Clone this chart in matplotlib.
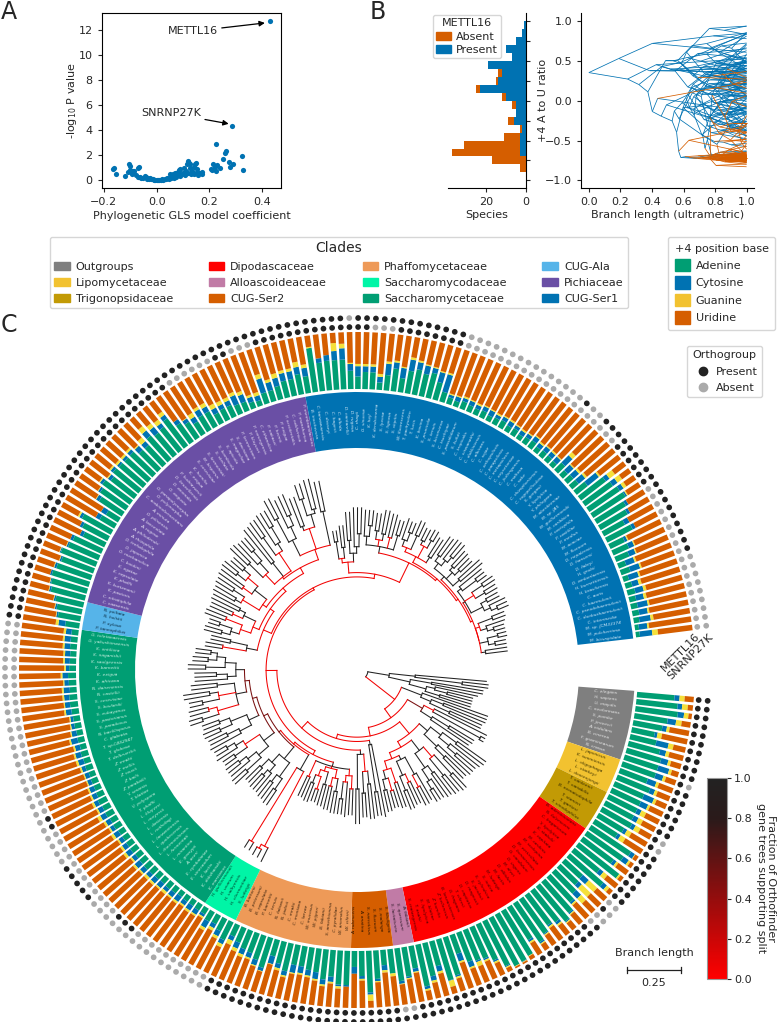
import re

import numpy as np
import matplotlib
matplotlib.use('Agg')
import matplotlib.pyplot as plt
from matplotlib.collections import LineCollection
from matplotlib.colors import LinearSegmentedColormap
from matplotlib.cm import ScalarMappable
from matplotlib.lines import Line2D
from matplotlib.patches import Patch

# ---------------------------------------------------------------- panel A data
gls_coef = [-0.166, -0.160, -0.153, -0.120, -0.105, -0.100, -0.102, -0.108, -0.095, -0.092, -0.088, -0.085,
            -0.080, -0.072, -0.068, -0.070, -0.062, -0.058, -0.050, -0.045, -0.040, -0.038, -0.032, -0.030,
            -0.025, -0.020, -0.015, -0.010, -0.005, 0.0, 0.005, 0.01, 0.015, 0.02, 0.025, 0.03, 0.035, 0.04,
            0.045, 0.05, 0.052, 0.055, 0.06, 0.062, 0.065, 0.07, 0.072, 0.075, 0.08, 0.082, 0.085, 0.088,
            0.09, 0.095, 0.10, 0.105, 0.108, 0.112, 0.115, 0.118, 0.12, 0.122, 0.125, 0.128, 0.13, 0.135,
            0.14, 0.142, 0.145, 0.148, 0.15, 0.152, 0.155, 0.16, 0.165, 0.17, 0.172, 0.206, 0.21, 0.215,
            0.22, 0.223, 0.224, 0.228, 0.24, 0.25, 0.26, 0.264, 0.275, 0.277, 0.29, 0.287, 0.325, 0.328, 0.43]
gls_logp = [0.93, 0.97, 0.53, 0.32, 1.28, 0.82, 1.15, 0.70, 0.60, 0.50, 0.78, 0.72,
            0.40, 0.25, 1.06, 0.98, 0.30, 0.22, 0.18, 0.38, 0.30, 0.12, 0.22, 0.10,
            0.16, 0.08, 0.12, 0.05, 0.03, 0.02, 0.04, 0.02, 0.06, 0.08, 0.05, 0.10, 0.08, 0.18,
            0.12, 0.30, 0.48, 0.22, 0.35, 0.52, 0.15, 0.62, 0.42, 0.28, 0.70, 0.55, 0.82, 0.90,
            0.36, 0.48, 0.62, 0.98, 0.42, 0.75, 1.28, 1.55, 0.60, 1.42, 0.95, 1.30, 0.50, 0.75,
            1.05, 0.48, 1.30, 0.62, 1.42, 0.90, 0.42, 0.55, 0.60, 0.48, 0.65, 0.93, 0.85, 1.33,
            1.05, 0.75, 2.88, 1.2, 0.95, 1.73, 2.2, 2.35, 1.47, 1.07, 1.33, 4.37, 1.97, 0.8, 12.72]

# ---------------------------------------------------------------- panel B data
hist_edges = np.arange(-0.9, 1.01, 0.1)
hist_present = [0, 0, 3, 3, 3, 2, 6, 5, 5, 10, 23, 14, 12, 19, 7, 10, 5, 2, 1]
hist_absent = [3, 17, 34, 28, 8, 1, 3, 0, 2, 2, 2, 1, 2, 0, 0, 0, 0, 0, 0]

# ---------------------------------------------------------------- clades, clockwise from the gap
clade_names = ['Outgroups', 'Lipomycetaceae', 'Trigonopsidaceae', 'Dipodascaceae', 'Alloascoideaceae', 'CUG-Ser2',
               'Phaffomycetaceae', 'Saccharomycodaceae', 'Saccharomycetaceae', 'CUG-Ala', 'Pichiaceae', 'CUG-Ser1']
clade_colors = ['#7F7F7F', '#F2C230', '#C29A05', '#FF0000', '#C17BA6', '#D55E00',
                '#EE9A58', '#00F5A6', '#009E73', '#56B4E9', '#6A4FA5', '#0072B2']
label_colors = ['#E8E8E8', '#3A3000', '#2E2500', '#4A0000', '#2C1A28', '#2E1400',
                '#3D2510', '#00402C', '#C8F0E0', '#0A2A40', '#E6E0F4', '#CFE6F6']

outgroups = ['C. elegans', 'H. sapiens', 'U. maydis', 'C. neoformans', 'S. pombe', 'P. jirovecii', 'A. nidulans',
             'B. cinerea', 'F. graminearum', 'N. crassa']
lipomycetaceae = ['L. japonicus', 'K. suomiensis', 'L. oligophaga', 'L. starkeyi', 'L. doorenjongii']
trigonopsidaceae = ['T. vanleenii', 'T. variabilis', 'B. nematodophila', 'T. stanieri', 'T. gartieri',
                    'T. vinodophilus']
dipodascaceae = ['B. adeninivorans', 'N. fulvescens', 'C. fragariorum', 'Y. lipolytica', 'K. stabulii', 'K. capitata',
                 'M. cardinis', 'M. scolopina', 'M. verticillata', 'D. bonaerensis', 'G. candidum', 'D. ingens',
                 'M. alvei', 'D. albidus', 'M. lactis', 'M. ludwigii', 'S. indica', 'S. cylindrica', 'S. jacobsii',
                 'D. magnusii', 'D. capitatus', 'T. ciferrii', 'G. fragrans', 'B. lanzarotensis', 'Z. hellenicus',
                 'Z. humilis', 'M. blattae', 'S. lipolytica', 'T. asahii', 'S. crataegensis']
alloascoideaceae = ['A. fabianii', 'S. quercuum', 'S. lactativora']
cug_ser2 = ['S. fibuligera', 'S. malanga', 'S. fluxuum', 'S. narcoticus', 'A. anatina', 'A. rubescens']
phaffomycetaceae = ['W. ciferrii', 'W. anomalus', 'C. pyralidae', 'S. amethionina', 'B. fabianii', 'W. pijperi',
                    'W. mucosus', 'C. larvae', 'C. montana', 'C. mrakii', 'N. jadinii', 'N. fabianii', 'C. tenuis',
                    'P. barnettii', 'B. capsulata', 'B. petersonii', 'B. bartonii']
saccharomycodaceae = ['S. ludwigii', 'H. clermontiae', 'H. valbyensis', 'H. uvarum', 'H. guilliermondii']
saccharomycetaceae = ['K. marxianus', 'K. dobzhanskii', 'K. lactis', 'E. sinecaudum', 'E. cymbalariae', 'A. aceri',
                      'E. gossypii', 'L. mirantina', 'L. fermentati', 'L. thermotolerans', 'L. quebecensis',
                      'L. lanzarotensis', 'L. nothofagi', 'L. dasiensis', 'L. meyersii', 'L. kluyveri', 'T. phaffii',
                      'V. polyspora', 'T. blattae', 'Y. smarsis', 'Z. parabailii', 'Z. bailii', 'Z. rouxii',
                      'Z. mellis', 'Z. mrakii', 'T. delbrueckii', 'T. globosa', 'T. sp.CBS2947', 'C. glabrata',
                      'N. bacillisporus', 'S. paradoxus', 'S. pastorianus', 'S. eubayanus', 'S. boulardii',
                      'S. cerevisiae', 'N. castellii', 'N. dairenensis', 'K. africana', 'K. exigua', 'K. barnettii',
                      'K. saulgeensis', 'K. naganishii', 'K. ontiliora', 'G. yakushimaensis', 'G. toletanaensis']
cug_ala = ['P. tannophilus', 'P. xylosa', 'N. holstii', 'N. peltata']
pichiaceae = ['C. vaasensis', 'C. nitratiphila', 'K. pastoris', 'K. kurtzmanii', 'K. phaffii', 'K. capsulata',
              'K. ogatae', 'C. boidinii', 'O. methanolica', 'O. japonica', 'O. trehalophila', 'A. rhizophila',
              'A. philodendri', 'A. rugosa', 'A. lanceolata', 'O. pilisensis', 'A. minuta', 'C. arabinofermentans',
              'O. polymorpha', 'O. parapolymorpha', 'O. angusta', 'D. anomala', 'D. bruxellensis', 'P. kudriavzevii',
              'K. exigua', 'K. humilis', 'S. cerevisiae', 'M. bisporus', 'S. fermentati', 'S. stellata',
              'S. bombicola', 'S. apicola', 'S. magnoliae', 'S. davisiana', 'P. fermentans', 'P. kluyveri',
              'P. norvegensis', 'C. ethanolica', 'P. nakasei', 'P. heimii', 'P. exigua', 'P. occidentalis',
              'C. californica', 'P. manshurica', 'P. membranifaciens']
cug_ser1 = ['B. inositovora', 'C. tanzawaensis', 'C. dosseyi', 'C. hagerii', 'C. albida', 'D. cantarellii',
            'D. rugosa', 'C. rhagii', 'G. sinuosa', 'K. hejl', 'K. dendronema', 'S. lyxosa', 'S. lignosa',
            'S. stipitis', 'W. fluorescens', 'T. pachysolen', 'T. lucis', 'K. bovina', 'S. prunicola',
            'S. tenuis', 'S. biconvexa', 'C. tsuchiyae', 'S. passalidarum', 'S. kufuti', 'C. tropicalis',
            'C. viswanathii', 'C. dubliniensis', 'C. albicans', 'C. sojae', 'C. orthopsilosis', 'C. parapsilosis',
            'C. metapsilosis', 'C. oxycetoniae', 'C. jiufengensis', 'C. maltosa', 'C. sake', 'C. rhizophoriensis',
            'C. rugopelliculosa', 'S. gorgasii', 'Y. lipolytica', 'Y. philogaea', 'M. aberdeeniae', 'M. sp. JA5',
            'M. guilliermondii', 'M. caribbica', 'P. cactophila', 'P. castillae', 'P. medius', 'M. acaciae',
            'M. fluxuum', 'D. nepalensis', 'D. hansenii', 'D. fabryi', 'H. grubii', 'D. amberlaensis',
            'H. burnettiensis', 'H. brasiliensis', 'C. auris', 'C. haemulonii', 'C. pseudohaemulonii',
            'C. duobushaemulonii', 'C. intermedia', 'M. sp. JCM33374', 'M. pulcherrima', 'M. bicuspidata']
clade_species = [outgroups, lipomycetaceae, trigonopsidaceae, dipodascaceae, alloascoideaceae, cug_ser2,
                 phaffomycetaceae, saccharomycodaceae, saccharomycetaceae, cug_ala, pichiaceae, cug_ser1]

# +4 position base composition in percent, same clockwise species order (uridine is the rest)
adenine = [66, 73, 75, 59, 52, 41, 47, 57, 63, 62,
           62, 52, 62, 56, 56,
           56, 56, 60, 52, 47, 84,
           78, 67, 90, 58, 78, 42, 44, 52, 60, 72, 80, 70, 66, 74, 82, 68, 92, 95, 96, 88, 70, 60, 58, 55, 35, 70,
           75, 45, 60, 75,
           40, 52, 58,
           43, 27, 50, 73, 44, 28,
           60, 60, 47, 53, 42, 40, 36, 36, 50, 40, 30, 55, 45, 37, 35, 28, 22,
           35, 24, 17, 19, 12,
           12, 11, 11, 10, 12, 13, 12, 13, 14, 15, 14, 13, 14, 13, 12, 12, 14, 13, 15, 14, 16, 13, 12, 12, 11, 13,
           12, 13, 11, 12, 11, 12, 12, 13, 14, 14, 12, 13, 14, 12, 11, 11, 12, 12, 12,
           25, 40, 45, 50,
           62, 65, 68, 64, 60, 66, 58, 55, 42, 50, 58, 30, 25, 48, 55, 60, 52, 58, 56,
           55, 55, 46, 45, 55, 50, 52, 60, 40, 33, 25, 30, 30, 20, 22, 22, 18, 17, 12, 10, 20, 20, 24, 30, 30, 36,
           30, 78, 50, 52, 52, 52, 32, 22, 30, 30, 13, 27, 40, 25, 40, 45, 40, 45, 32, 18,
           12, 10, 14, 12, 11, 13, 10, 12, 14, 11, 13, 9, 12, 14, 10, 12,
           11, 10, 18, 12, 14, 15, 25, 55, 60, 65, 68, 60, 55, 42, 50, 28, 30, 25, 14, 17, 10, 12, 14, 12, 12, 12,
           10, 7, 7]
cytosine = [9, 8, 11, 15, 8, 5, 22, 11, 13, 20,
            14, 16, 9, 19, 14,
            8, 9, 7, 6, 6, 8,
            11, 6, 0, 8, 8, 14, 8, 12, 4, 3, 2, 5, 3, 2, 3, 4, 0, 1, 0, 2, 3, 3, 3, 10, 14, 3, 1, 10, 8, 5,
            6, 3, 5,
            0, 9, 4, 4, 5, 12,
            3, 3, 9, 9, 12, 10, 12, 14, 8, 8, 14, 6, 10, 9, 10, 11, 8,
            8, 10, 8, 13, 5,
            9, 10, 8, 11, 9, 7, 10, 10, 8, 9, 11, 8, 10, 9, 8, 10, 7, 9, 10, 9, 8, 9, 9, 7, 8, 7, 10, 10, 9, 12,
            9, 6, 5, 10, 9, 9, 11, 8, 10, 6, 9, 9, 10, 11, 10,
            12, 3, 3, 3,
            3, 2, 3, 4, 3, 2, 3, 5, 6, 5, 5, 8, 10, 6, 4, 5, 6, 5, 4,
            5, 6, 10, 9, 12, 13, 8, 8, 8, 7, 10, 12, 10, 10, 8, 9, 17, 14, 9, 9, 26, 15, 15, 14, 14, 13,
            15, 0, 8, 10, 16, 20, 12, 18, 10, 10, 10, 20, 11, 18, 20, 13, 15, 9, 18, 32,
            5, 8, 6, 8, 7, 8, 10, 6, 7, 9, 6, 8, 7, 9, 8, 9,
            9, 10, 18, 14, 13, 15, 25, 8, 10, 8, 3, 5, 5, 9, 6, 5, 10, 12, 16, 18, 18, 12, 15, 14, 18, 15, 20, 15, 22]
guanine = [9, 10, 8, 10, 5, 8, 9, 6, 5, 5,
           5, 5, 5, 5, 4,
           9, 9, 10, 9, 10, 1,
           4, 4, 3, 9, 6, 20, 22, 12, 3, 2, 2, 3, 3, 2, 2, 3, 1, 1, 1, 2, 3, 3, 8, 3, 3, 3, 11, 4, 4, 3,
           2, 2, 1,
           5, 4, 2, 11, 3, 0,
           0, 4, 3, 3, 3, 3, 3, 2, 3, 4, 1, 1, 2, 3, 5, 6, 8,
           6, 5, 5, 5, 3,
           3, 4, 3, 4, 3, 5, 3, 4, 5, 3, 4, 3, 5, 4, 3, 5, 3, 4, 6, 3, 4, 3, 3, 2, 2, 3, 4, 3, 3, 3,
           2, 2, 2, 3, 2, 3, 3, 2, 3, 3, 3, 3, 3, 3, 4,
           5, 1, 1, 1,
           1, 1, 0, 1, 1, 1, 1, 0, 0, 0, 3, 0, 0, 1, 1, 2, 2, 3, 4,
           4, 4, 2, 9, 10, 8, 8, 7, 0, 1, 8, 5, 7, 8, 7, 6, 6, 6, 4, 6, 8, 5, 8, 5, 5, 9,
           6, 2, 0, 0, 14, 8, 2, 4, 4, 4, 5, 4, 3, 2, 4, 3, 2, 2, 2, 3,
           2, 2, 3, 2, 3, 2, 2, 3, 2, 3, 2, 3, 2, 2, 3, 2,
           3, 2, 8, 2, 4, 4, 3, 12, 10, 6, 2, 0, 0, 0, 0, 2, 2, 2, 3, 3, 3, 5, 5, 5, 3, 3, 5, 3, 10]

# species index runs (first, last) where the orthogroup is absent
mettl16_absent = [(26, 26), (28, 29), (52, 53), (77, 86), (90, 101), (104, 126), (160, 165), (168, 170),
                  (185, 187), (196, 216), (223, 240)]
snrnp27k_absent = [(10, 10), (17, 18), (26, 28), (77, 92), (98, 126), (182, 182), (196, 210), (212, 213),
                   (232, 240)]

# tree as nested text: numbers are depth from the root in 0.01 branch length units,
# a number after ")" is the depth of that node, r = low support, d = middling support
t_out = '((55,(56,56)44)22,((54,54)30,((52,(50,50)38)32,(50,50)35)28)20)10'
t_lipo = '(59,((59,59)38,(58,58)42)32)27'
t_trig = '((62,(62,62)60)35r,((58,58)45,57)36)30d'
t_dip_a = '(((68,68)52,(67,(66,66)55)50)44,(66,(65,65)52)46)38'
t_dip_b = '(((69,69)60,(68,68)58)48r,((67,67)54,(66,(66,66)60)56)50)42'
t_dip_c = '((64,(65,65)56r)50,((63,63)52r,(64,64)55)48)41'
t_dip_d = '((62,62)50r,((61,61)53r,(62,62)52)47)43r'
t_dip = f'({t_dip_a},({t_dip_b},({t_dip_c},{t_dip_d})39r)36r)33r'
t_allo = '(64,(63,63)52)30'
t_ser2 = '(((64,64)48,(63,63)52)42r,(66,66)50)34'
t_phaff = ('(((62,62)50r,(63,(62,62)55)47r)44r,(((62,62)52,(61,61)50r)46r,((60,60)50,((59,59)53r,(60,60)51)47r)44r)42r,'
           '(59,59)49r)41')
t_sdc = '((94,(93,93)89r)87r,(92,92)88r)48'
t_sct_1 = '(((70,70)62,(69,69)60)56,((68,(68,68)60)57,(67,67)58)53)48'
t_sct_2 = '(((72,72)64,(71,(71,71)64)60)55,((70,70)64,(72,(71,71)65)61)57r)49'
t_sct_3 = '((72,(71,71)62)56,((72,72)64,(71,71)63)58)50'
t_sct_4 = '(((76,76)70,(75,75)66r)62r,((74,74)68,(76,76)64)60r,(72,72)60)52'
t_sct_5 = '((70,(70,70)60)55,((73,73)65,((71,71)64,(70,70)63)60)56)51'
t_sct = f'({t_sct_1},({t_sct_2},({t_sct_3},({t_sct_4},{t_sct_5})47d)45d)43d)41d'
t_ala = '((66,66)58r,(64,64)55)47'
t_pich_1 = '((((68,68)60,(67,67)62)56,(70,70)60r)52r,((69,69)58r,(70,70)56)53)47r'
t_pich_2 = '(((71,71)60,(72,72)63)57r,((73,73)60r,((74,74)66,(72,72)65)61r)55)48r'
t_pich_3 = '(((76,76)65,(75,(75,75)68)62)56r,(78,78)58,((79,79)70,(80,(80,80)72)64)60r)50r'
t_pich_4 = '(((84,84)74,(82,(83,83)73)68)62,((80,80)66,((85,85)78,(86,86)72)70)64r,(84,84)70)54r'
t_pich = f'({t_pich_1},({t_pich_2},({t_pich_3},{t_pich_4})49r)46r)44r'
t_ser1_1 = '(((60,60)55,(62,62)52)47r,((68,68)55,(70,(70,70)58)52)49)45r'
t_ser1_2 = '((69,(69,69)62)57,((68,68)60,(70,70)59)56r,(69,69)58r,(67,67)60)53'
t_ser1_3 = '(((69,(68,68)63)59,(70,70)63)56r,((68,68)62,(69,69)64)60r,(67,67)57)54r'
t_ser1_4 = '(((70,70)60,(71,(71,71)63)60)57,((69,69)60,(68,68)61)58,(71,71)58)54'
t_ser1_5 = '((69,(69,69)64)56,((71,71)65,(70,70)64)59r,((69,69)63,(71,(71,71)66)63)60)54'
t_ser1_6 = '(((68,68)62,(67,(66,66)61)58)55r,((66,66)62,(65,65)60)57,(65,65)55)53r'
t_ser1 = f'({t_ser1_1},({t_ser1_2},({t_ser1_3},({t_ser1_4},({t_ser1_5},{t_ser1_6})53r)52r)51r)50r)40r'
t_sacc = f'({t_phaff},({t_sdc},{t_sct})40r)39r'
t_pcug = f'(({t_ala},{t_pich})42r,{t_ser1})38r'
tree_text = (f'({t_out},({t_lipo},({t_trig},({t_dip},({t_allo},({t_ser2},({t_sacc},{t_pcug})37r)32r)28r)26r)22r)17r)0')

# ---------------------------------------------------------------- geometry and styles, in output pixels
W, H = 778, 1022
CX, CY, RMAX = 357, 670, 358
TREE_R0, PX_PER_UNIT = 11, 2.16  # depth 25 is the 0.25 scale bar
RING_IN, RING_OUT, BAR_IN, BAR_LEN = 222, 278, 281, 57
DOT_INNER, DOT_OUTER = 343, 352
THETA_START, SWEEP = -4.3, 349.2

BLUE, ORANGE, GREEN = '#0072B2', '#D55E00', '#009E73'
YELLOW_BAR, AMBER = '#F5E03A', '#F2C230'
DOT_ON, DOT_OFF = '#222222', '#AAAAAA'

plt.rcParams.update({'font.size': 8, 'axes.linewidth': 0.8, 'text.color': '#262626', 'axes.labelcolor': '#262626',
                     'xtick.color': '#262626', 'ytick.color': '#262626', 'xtick.labelsize': 8, 'ytick.labelsize': 8,
                     'axes.labelsize': 8, 'xtick.major.size': 3, 'ytick.major.size': 3})


def px_rect(left, top, right, bottom):
    return [left / W, 1 - bottom / H, (right - left) / W, (bottom - top) / H]


def parse_tree(text):
    tokens = re.findall(r'\(|\)|,|[\d.]+|[rd]', text)
    pos = 0

    def node():
        nonlocal pos
        if tokens[pos] == '(':
            pos += 1
            kids = [node()]
            while tokens[pos] == ',':
                pos += 1
                kids.append(node())
            pos += 1  # closing bracket
        else:
            kids = []
        depth = float(tokens[pos])
        pos += 1
        support = 1.0
        if pos < len(tokens) and tokens[pos] in 'rd':
            support = {'r': 0.05, 'd': 0.5}[tokens[pos]]
            pos += 1
        return {'kids': kids, 'depth': depth, 'support': support}

    return node()


def layout(node, parent, nodes, leaves):
    node['parent'] = parent
    nodes.append(node)
    if not node['kids']:
        node['leaf'] = len(leaves)
        leaves.append(node)
        return
    for kid in node['kids']:
        layout(kid, node, nodes, leaves)


species = [name for group in clade_species for name in group]
n_species = len(species)
step = SWEEP / n_species
theta_deg = THETA_START - (np.arange(n_species) + 0.5) * step
theta = np.radians(theta_deg)
a, c, g = np.array(adenine), np.array(cytosine), np.array(guanine)
u = 100 - a - c - g

mettl16_present = np.ones(n_species, dtype=bool)
for first, last in mettl16_absent:
    mettl16_present[first:last + 1] = False
snrnp27k_present = np.ones(n_species, dtype=bool)
for first, last in snrnp27k_absent:
    snrnp27k_present[first:last + 1] = False

root = parse_tree(tree_text)
nodes, leaves = [], []
layout(root, None, nodes, leaves)
if not (len(leaves) == n_species == len(a) == len(c) == len(g)):
    raise ValueError(f'leaves {len(leaves)} species {n_species} bases {len(a)} {len(c)} {len(g)}')

# tree angle, ancestral ratio and presence per node, children before parents
ratio = (a - u) / (a + u)
for node in reversed(nodes):
    if node['kids']:
        kids = node['kids']
        weights = [len(k['tips']) ** 0.25 for k in kids]
        node['theta'] = (kids[0]['theta'] + kids[-1]['theta']) / 2
        node['ratio'] = np.average([k['ratio'] for k in kids], weights=weights)
        node['tips'] = [t for k in kids for t in k['tips']]
        node['present'] = any(k['present'] for k in kids)
    else:
        node['theta'] = theta[node['leaf']]
        node['ratio'] = ratio[node['leaf']]
        node['tips'] = [node['depth']]
        node['present'] = bool(mettl16_present[node['leaf']])

# ultrametric position, parents before children
for node in nodes:
    p = node['parent']
    if p is None:
        node['x'] = 0.0
    elif not node['kids']:
        node['x'] = 1.0
    else:
        frac = (node['depth'] - p['depth']) / (np.mean(node['tips']) + 1e-9 - p['depth'])
        node['x'] = p['x'] + (1 - p['x']) * frac

fig = plt.figure(figsize=(W / 100, H / 100), dpi=100)
for letter, x, y in [('A', 1, 12), ('B', 370, 12), ('C', 1, 325)]:
    fig.text(x / W, 1 - y / H, letter, fontsize=17, va='center', ha='left')

# ---------------------------------------------------------------- panel A
ax_gls = fig.add_axes(px_rect(101.7, 13.3, 281.3, 188.3))
ax_gls.scatter(gls_coef, gls_logp, s=14, color=BLUE, linewidths=0)
ax_gls.set_xlim(-0.208, 0.472)
ax_gls.set_ylim(-0.64, 13.36)
ax_gls.set_xticks([-0.2, 0.0, 0.2, 0.4])
ax_gls.set_yticks(range(0, 13, 2))
ax_gls.set_xlabel('Phylogenetic GLS model coefficient', labelpad=2.5)
ax_gls.set_ylabel(r'-log$_{10}$ P value', labelpad=0)
ax_gls.annotate('METTL16', xy=(0.415, 12.6), xytext=(0.136, 11.92), ha='center', va='center',
                arrowprops=dict(arrowstyle='-|>', color='black', lw=0.9, shrinkA=1, shrinkB=1))
ax_gls.annotate('SNRNP27K', xy=(0.278, 4.5), xytext=(0.054, 5.36), ha='center', va='center',
                arrowprops=dict(arrowstyle='-|>', color='black', lw=0.9, shrinkA=1, shrinkB=1))

# ---------------------------------------------------------------- panel B histogram
ax_hist = fig.add_axes(px_rect(448, 13.3, 525.8, 188.3))
hist_centers = hist_edges[:-1] + 0.05
ax_hist.barh(hist_centers, hist_present, height=0.1, color=BLUE, linewidth=0)
ax_hist.barh(hist_centers, hist_absent, height=0.1, left=hist_present, color=ORANGE, linewidth=0)
ax_hist.set_xlim(39, 0)
ax_hist.set_ylim(-1.10, 1.10)
ax_hist.set_xticks([20, 0])
ax_hist.set_yticks(np.arange(-1, 1.01, 0.25))
ax_hist.yaxis.tick_right()
ax_hist.tick_params(axis='y', labelright=False)
ax_hist.spines[['left', 'top']].set_visible(False)
ax_hist.set_xlabel('Species', labelpad=2)
fig.text(543 / W, 1 - 100 / H, '+4 A to U ratio', rotation=90, ha='center', va='center', fontsize=8)

# panel B traitgram
ax_trait = fig.add_axes(px_rect(581.3, 13.3, 754, 188.3))
trait_segs = {True: [], False: []}
for node in nodes:
    if node['parent'] is not None:
        p = node['parent']
        trait_segs[node['present']].append([(p['x'], p['ratio']), (node['x'], node['ratio'])])
ax_trait.add_collection(LineCollection(trait_segs[True], colors=BLUE, linewidths=0.55))
ax_trait.add_collection(LineCollection(trait_segs[False], colors=ORANGE, linewidths=0.55))
ax_trait.set_xlim(-0.048, 1.047)
ax_trait.set_ylim(-1.10, 1.10)
ax_trait.set_xticks(np.arange(0, 1.01, 0.2))
ax_trait.set_yticks(np.arange(-1, 1.01, 0.5))
ax_trait.spines[['right', 'top']].set_visible(False)
ax_trait.set_xlabel('Branch length (ultrametric)', labelpad=2)

# ---------------------------------------------------------------- panel C
ax_c = fig.add_axes(px_rect(CX - RMAX, CY - RMAX, CX + RMAX, CY + RMAX), projection='polar')

# clade ring with species names
start = 0
for group, colour, text_colour in zip(clade_species, clade_colors, label_colors):
    n = len(group)
    mid = np.radians(THETA_START - (start + n / 2) * step)
    ax_c.bar(mid, RING_OUT - RING_IN, width=np.radians(n * step), bottom=RING_IN, color=colour, linewidth=0)
    start += n
for name, t_deg, t_rad, colour in zip(species, theta_deg, theta,
                                      [col for group, col in zip(clade_species, label_colors) for _ in group]):
    deg = t_deg % 360
    rotation = deg - 180 if 90 < deg < 270 else deg
    ax_c.text(t_rad, (RING_IN + RING_OUT) / 2, name, rotation=rotation, rotation_mode='anchor', ha='center',
              va='center', fontsize=3.2, style='italic', color=colour)

# stacked base bars, drawn as thick radial lines so that they keep a constant width
bottom = np.full(n_species, float(BAR_IN))
for values, colour in zip([a, c, g, u], [GREEN, BLUE, YELLOW_BAR, ORANGE]):
    heights = values / 100 * BAR_LEN
    segs = ax_c.vlines(theta, bottom, bottom + heights, colors=colour, linewidth=4.0)
    segs.set_capstyle('butt')
    bottom = bottom + heights

# presence dots, METTL16 inside and SNRNP27K outside
for present, radius in [(mettl16_present, DOT_INNER), (snrnp27k_present, DOT_OUTER)]:
    ax_c.scatter(theta, np.full(n_species, radius), s=17, linewidths=0,
                 c=[DOT_ON if p else DOT_OFF for p in present])
ax_c.text(np.radians(3.2), 323.5, 'METTL16', rotation=45, ha='center', va='center', fontsize=8)
ax_c.text(np.radians(2.2), 333.3, 'SNRNP27K', rotation=45, ha='center', va='center', fontsize=8)

# phylogeny, red for low support
support_cmap = LinearSegmentedColormap.from_list('support', [(0, '#FF0000'), (0.8, '#2A1A1A'), (1, '#222222')])
tree_segs, tree_cols = [], []
for node in sorted(nodes, key=lambda n: -n['support']):
    r = TREE_R0 + node['depth'] * PX_PER_UNIT
    colour = support_cmap(node['support'])
    if node['parent'] is not None:
        r_parent = TREE_R0 + node['parent']['depth'] * PX_PER_UNIT
        tree_segs.append([(node['theta'], r_parent), (node['theta'], r)])
        tree_cols.append(colour)
    if node['kids']:
        arc = np.linspace(node['kids'][0]['theta'], node['kids'][-1]['theta'], 60)
        tree_segs.append(list(zip(arc, np.full(arc.size, r))))
        tree_cols.append(colour)
ax_c.add_collection(LineCollection(tree_segs, colors=tree_cols, linewidths=0.75, capstyle='projecting'))
ax_c.set_ylim(0, RMAX)
ax_c.set_axis_off()

# support colour bar
ax_cbar = fig.add_axes(px_rect(707, 778, 727, 979))
cbar = fig.colorbar(ScalarMappable(cmap=support_cmap), cax=ax_cbar, ticks=np.arange(0, 1.01, 0.2))
cbar.outline.set_edgecolor('#999999')
ax_cbar.tick_params(labelsize=8, length=3, pad=2)
fig.text(766 / W, 1 - 878 / H, 'Fraction of Orthofinder\ngene trees supporting split', rotation=270, ha='center',
         va='center', fontsize=8, linespacing=1.05)

# scale bar for 0.25 branch length
bar_left, bar_right, bar_y = 627, 627 + 25 * PX_PER_UNIT, 970
fig.add_artist(Line2D([bar_left / W, bar_right / W], [1 - bar_y / H] * 2, color='#222222', lw=0.9))
for x in (bar_left, bar_right):
    fig.add_artist(Line2D([x / W] * 2, [1 - (bar_y - 3) / H, 1 - (bar_y + 3) / H], color='#222222', lw=0.9))
fig.text(654 / W, 1 - 953 / H, 'Branch length', ha='center', va='center', fontsize=8)
fig.text(654 / W, 1 - 983 / H, '0.25', ha='center', va='center', fontsize=8)

# ---------------------------------------------------------------- legends
clade_handles = [Patch(color=col, label=name) for name, col in zip(clade_names, clade_colors)]
fig.legend(handles=clade_handles, title='Clades', ncol=4, loc='upper left', bbox_to_anchor=(49.6 / W, 1 - 237 / H),
           borderaxespad=0, fontsize=8, title_fontsize=10, columnspacing=3.2, handlelength=1.4, handletextpad=0.55,
           labelspacing=0.55)
base_handles = [Patch(color=GREEN, label='Adenine'), Patch(color=BLUE, label='Cytosine'),
                Patch(color=AMBER, label='Guanine'), Patch(color=ORANGE, label='Uridine')]
fig.legend(handles=base_handles, title='+4 position base', loc='upper left', bbox_to_anchor=(668 / W, 1 - 237 / H),
           borderaxespad=0, fontsize=8, title_fontsize=8, handlelength=1.35, handleheight=1.35, handletextpad=0.55,
           labelspacing=0.45, alignment='left', borderpad=0.6)
dot_handles = [Line2D([], [], marker='o', ls='', ms=6, color=DOT_ON, label='Present'),
               Line2D([], [], marker='o', ls='', ms=6, color=DOT_OFF, label='Absent')]
fig.legend(handles=dot_handles, title='Orthogroup', loc='upper left', bbox_to_anchor=(687 / W, 1 - 346 / H),
           borderaxespad=0, fontsize=8, title_fontsize=8, handletextpad=0.2, labelspacing=0.55)
mettl_handles = [Patch(color=ORANGE, label='Absent'), Patch(color=BLUE, label='Present')]
fig.legend(handles=mettl_handles, title='METTL16', loc='upper left', bbox_to_anchor=(432.5 / W, 1 - 15 / H),
           borderaxespad=0, fontsize=8, title_fontsize=8, handlelength=1.4, handletextpad=0.4, labelspacing=0.3,
           borderpad=0.3)

fig.savefig('out.png', dpi=100)
